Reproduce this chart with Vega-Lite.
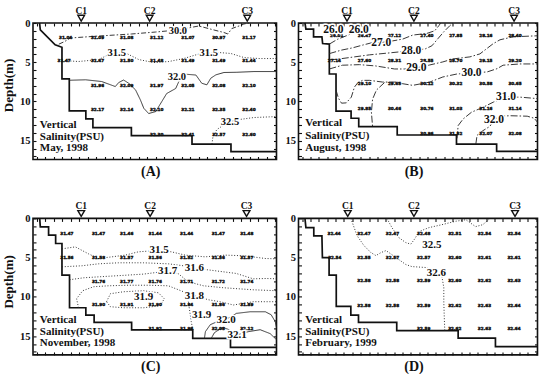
{
"$schema": "https://vega.github.io/schema/vega-lite/v6.json",
"background": "white",
"padding": {"left": 1, "top": 4, "right": 0, "bottom": 0},
"datasets": {
"bathy": [
{"p":"A","i":0,"x":2.7,"y":0},{"p":"A","i":1,"x":3.0,"y":0.87},{"p":"A","i":2,"x":9.1,"y":2.78},{"p":"A","i":3,"x":11.9,"y":3.09},{"p":"A","i":4,"x":11.9,"y":7.12},{"p":"A","i":5,"x":14.9,"y":7.12},{"p":"A","i":6,"x":14.9,"y":11.2},{"p":"A","i":7,"x":21.7,"y":11.2},{"p":"A","i":8,"x":21.7,"y":12.22},{"p":"A","i":9,"x":24.6,"y":12.22},{"p":"A","i":10,"x":24.6,"y":13.33},{"p":"A","i":11,"x":40.4,"y":13.33},{"p":"A","i":12,"x":40.4,"y":14.35},{"p":"A","i":13,"x":65.3,"y":14.35},{"p":"A","i":14,"x":65.3,"y":15.43},{"p":"A","i":15,"x":81.3,"y":15.43},{"p":"A","i":16,"x":81.3,"y":16.4},{"p":"A","i":17,"x":100,"y":16.4},
{"p":"B","i":0,"x":2.7,"y":0},{"p":"B","i":1,"x":3.1,"y":0.77},{"p":"B","i":2,"x":6.3,"y":0.77},{"p":"B","i":3,"x":6.3,"y":1.76},{"p":"B","i":4,"x":9.8,"y":1.76},{"p":"B","i":5,"x":10.1,"y":2.62},{"p":"B","i":6,"x":12.9,"y":2.69},{"p":"B","i":7,"x":12.9,"y":6.5},{"p":"B","i":8,"x":15.7,"y":6.5},{"p":"B","i":9,"x":15.7,"y":11.24},{"p":"B","i":10,"x":22.0,"y":11.24},{"p":"B","i":11,"x":22.0,"y":12.14},{"p":"B","i":12,"x":25.2,"y":12.14},{"p":"B","i":13,"x":25.2,"y":13.2},{"p":"B","i":14,"x":41.3,"y":13.2},{"p":"B","i":15,"x":41.3,"y":14.28},{"p":"B","i":16,"x":66.1,"y":14.28},{"p":"B","i":17,"x":66.1,"y":15.44},{"p":"B","i":18,"x":82.9,"y":15.44},{"p":"B","i":19,"x":82.9,"y":16.37},{"p":"B","i":20,"x":100,"y":16.37},
{"p":"C","i":0,"x":2.75,"y":0},{"p":"C","i":1,"x":3.0,"y":1.08},{"p":"C","i":2,"x":6.4,"y":1.08},{"p":"C","i":3,"x":6.4,"y":2.14},{"p":"C","i":4,"x":9.3,"y":2.14},{"p":"C","i":5,"x":9.3,"y":3.2},{"p":"C","i":6,"x":11.9,"y":3.2},{"p":"C","i":7,"x":11.9,"y":7.23},{"p":"C","i":8,"x":15.0,"y":7.23},{"p":"C","i":9,"x":15.0,"y":11.39},{"p":"C","i":10,"x":21.7,"y":11.39},{"p":"C","i":11,"x":21.7,"y":12.32},{"p":"C","i":12,"x":25.1,"y":12.32},{"p":"C","i":13,"x":25.1,"y":13.26},{"p":"C","i":14,"x":40.5,"y":13.26},{"p":"C","i":15,"x":40.5,"y":14.22},{"p":"C","i":16,"x":65.6,"y":14.22},{"p":"C","i":17,"x":65.6,"y":15.29},{"p":"C","i":18,"x":81.1,"y":15.29},{"p":"C","i":19,"x":81.1,"y":16.44},{"p":"C","i":20,"x":100,"y":16.44},
{"p":"D","i":0,"x":2.7,"y":0},{"p":"D","i":1,"x":3.1,"y":1.18},{"p":"D","i":2,"x":6.4,"y":1.18},{"p":"D","i":3,"x":6.4,"y":2.24},{"p":"D","i":4,"x":9.8,"y":2.24},{"p":"D","i":5,"x":10.0,"y":4.99},{"p":"D","i":6,"x":12.8,"y":4.99},{"p":"D","i":7,"x":12.8,"y":7.24},{"p":"D","i":8,"x":15.8,"y":7.24},{"p":"D","i":9,"x":15.8,"y":11.22},{"p":"D","i":10,"x":21.9,"y":11.22},{"p":"D","i":11,"x":21.9,"y":12.33},{"p":"D","i":12,"x":25.1,"y":12.33},{"p":"D","i":13,"x":25.1,"y":13.25},{"p":"D","i":14,"x":41.1,"y":13.25},{"p":"D","i":15,"x":41.1,"y":14.31},{"p":"D","i":16,"x":66.8,"y":14.31},{"p":"D","i":17,"x":66.8,"y":15.25},{"p":"D","i":18,"x":82.4,"y":15.25},{"p":"D","i":19,"x":82.4,"y":16.34},{"p":"D","i":20,"x":100,"y":16.34}
],
"cont": [
{"p":"A","id":"a1","lev":"30.0","i":0,"x":10.6,"y":2.7},{"p":"A","id":"a1","lev":"30.0","i":1,"x":13.0,"y":2.36},{"p":"A","id":"a1","lev":"30.0","i":2,"x":15.4,"y":1.91},{"p":"A","id":"a1","lev":"30.0","i":3,"x":27.0,"y":1.66},{"p":"A","id":"a1","lev":"30.0","i":4,"x":40.5,"y":1.4},{"p":"A","id":"a1","lev":"30.0","i":5,"x":50.4,"y":1.15},{"p":"A","id":"a1","lev":"30.0","i":6,"x":54.9,"y":1.02},{"p":"A","id":"a1","lev":"30.0","i":7,"x":59.5,"y":0.95},{"p":"A","id":"a1","lev":"30.0","i":8,"x":64.8,"y":0.57},{"p":"A","id":"a1","lev":"30.0","i":9,"x":68.1,"y":0.38},{"p":"A","id":"a1","lev":"30.0","i":10,"x":74.3,"y":0.89},{"p":"A","id":"a1","lev":"30.0","i":11,"x":78.4,"y":1.21},{"p":"A","id":"a1","lev":"30.0","i":12,"x":80.0,"y":1.4},{"p":"A","id":"a1","lev":"30.0","i":13,"x":81.7,"y":0.7},{"p":"A","id":"a1","lev":"30.0","i":14,"x":84.6,"y":0.38},{"p":"A","id":"a1","lev":"30.0","i":15,"x":86.6,"y":0.13},{"p":"A","id":"a1","lev":"30.0","i":16,"x":88.7,"y":0},
{"p":"A","id":"a2","lev":"31.5","i":0,"x":11.9,"y":4.78},{"p":"A","id":"a2","lev":"31.5","i":1,"x":18.7,"y":4.91},{"p":"A","id":"a2","lev":"31.5","i":2,"x":27.0,"y":4.66},{"p":"A","id":"a2","lev":"31.5","i":3,"x":31.1,"y":4.02},{"p":"A","id":"a2","lev":"31.5","i":4,"x":34.4,"y":3.85},{"p":"A","id":"a2","lev":"31.5","i":5,"x":38.5,"y":3.89},{"p":"A","id":"a2","lev":"31.5","i":6,"x":43.4,"y":4.66},{"p":"A","id":"a2","lev":"31.5","i":7,"x":49.6,"y":5.04},{"p":"A","id":"a2","lev":"31.5","i":8,"x":55.8,"y":4.91},{"p":"A","id":"a2","lev":"31.5","i":9,"x":61.9,"y":4.53},{"p":"A","id":"a2","lev":"31.5","i":10,"x":68.1,"y":3.95},{"p":"A","id":"a2","lev":"31.5","i":11,"x":72.2,"y":3.85},{"p":"A","id":"a2","lev":"31.5","i":12,"x":76.3,"y":3.76},{"p":"A","id":"a2","lev":"31.5","i":13,"x":81.3,"y":3.89},{"p":"A","id":"a2","lev":"31.5","i":14,"x":86.6,"y":4.4},{"p":"A","id":"a2","lev":"31.5","i":15,"x":92.8,"y":4.53},{"p":"A","id":"a2","lev":"31.5","i":16,"x":100,"y":4.53},
{"p":"A","id":"a3","lev":"32.0","i":0,"x":14.9,"y":7.3},{"p":"A","id":"a3","lev":"32.0","i":1,"x":21.6,"y":7.24},{"p":"A","id":"a3","lev":"32.0","i":2,"x":28.2,"y":7.46},{"p":"A","id":"a3","lev":"32.0","i":3,"x":33.8,"y":8.1},{"p":"A","id":"a3","lev":"32.0","i":4,"x":35.2,"y":7.59},{"p":"A","id":"a3","lev":"32.0","i":5,"x":37.2,"y":7.27},{"p":"A","id":"a3","lev":"32.0","i":6,"x":39.3,"y":7.68},{"p":"A","id":"a3","lev":"32.0","i":7,"x":42.1,"y":8.52},{"p":"A","id":"a3","lev":"32.0","i":8,"x":44.1,"y":9.8},{"p":"A","id":"a3","lev":"32.0","i":9,"x":45.5,"y":10.87},{"p":"A","id":"a3","lev":"32.0","i":10,"x":47.5,"y":11.54},{"p":"A","id":"a3","lev":"32.0","i":11,"x":50.4,"y":11.29},{"p":"A","id":"a3","lev":"32.0","i":12,"x":52.9,"y":10.01},{"p":"A","id":"a3","lev":"32.0","i":13,"x":54.9,"y":8.99},{"p":"A","id":"a3","lev":"32.0","i":14,"x":58.6,"y":8.35},{"p":"A","id":"a3","lev":"32.0","i":15,"x":59.9,"y":7.46},{"p":"A","id":"a3","lev":"32.0","i":16,"x":62.6,"y":6.53},{"p":"A","id":"a3","lev":"32.0","i":17,"x":66.9,"y":6.63},{"p":"A","id":"a3","lev":"32.0","i":18,"x":69.3,"y":7.68},{"p":"A","id":"a3","lev":"32.0","i":19,"x":71.4,"y":7.88},{"p":"A","id":"a3","lev":"32.0","i":20,"x":73.0,"y":7.04},{"p":"A","id":"a3","lev":"32.0","i":21,"x":75.1,"y":6.61},{"p":"A","id":"a3","lev":"32.0","i":22,"x":78.4,"y":6.31},{"p":"A","id":"a3","lev":"32.0","i":23,"x":83.7,"y":6.28},{"p":"A","id":"a3","lev":"32.0","i":24,"x":90.7,"y":6.19},{"p":"A","id":"a3","lev":"32.0","i":25,"x":100,"y":6.19},
{"p":"A","id":"a4","lev":"32.5","i":0,"x":73.5,"y":15.43},{"p":"A","id":"a4","lev":"32.5","i":1,"x":73.9,"y":14.48},{"p":"A","id":"a4","lev":"32.5","i":2,"x":75.5,"y":13.58},{"p":"A","id":"a4","lev":"32.5","i":3,"x":78.0,"y":13.07},{"p":"A","id":"a4","lev":"32.5","i":4,"x":80.9,"y":12.56},{"p":"A","id":"a4","lev":"32.5","i":5,"x":84.6,"y":12.31},{"p":"A","id":"a4","lev":"32.5","i":6,"x":90.7,"y":12.05},{"p":"A","id":"a4","lev":"32.5","i":7,"x":100,"y":11.93},
{"p":"B","id":"b0","lev":"26.0","i":0,"x":12.9,"y":2.69},{"p":"B","id":"b0","lev":"26.0","i":1,"x":16.3,"y":2.08},{"p":"B","id":"b0","lev":"26.0","i":2,"x":20.0,"y":1.63},{"p":"B","id":"b0","lev":"26.0","i":3,"x":22.1,"y":1.37},{"p":"B","id":"b0","lev":"26.0","i":4,"x":24.4,"y":0.92},{"p":"B","id":"b0","lev":"26.0","i":5,"x":26.8,"y":0.54},{"p":"B","id":"b0","lev":"26.0","i":6,"x":28.0,"y":0},
{"p":"B","id":"b1","lev":"27.0","i":0,"x":12.9,"y":3.9},{"p":"B","id":"b1","lev":"27.0","i":1,"x":17.9,"y":3.46},{"p":"B","id":"b1","lev":"27.0","i":2,"x":22.6,"y":3.17},{"p":"B","id":"b1","lev":"27.0","i":3,"x":26.8,"y":2.82},{"p":"B","id":"b1","lev":"27.0","i":4,"x":30.5,"y":2.53},{"p":"B","id":"b1","lev":"27.0","i":5,"x":34.6,"y":2.49},{"p":"B","id":"b1","lev":"27.0","i":6,"x":38.9,"y":2.31},{"p":"B","id":"b1","lev":"27.0","i":7,"x":43.6,"y":2.05},{"p":"B","id":"b1","lev":"27.0","i":8,"x":47.8,"y":1.54},{"p":"B","id":"b1","lev":"27.0","i":9,"x":53.7,"y":1.33},{"p":"B","id":"b1","lev":"27.0","i":10,"x":57.0,"y":0.99},{"p":"B","id":"b1","lev":"27.0","i":11,"x":58.7,"y":0.35},{"p":"B","id":"b1","lev":"27.0","i":12,"x":59.5,"y":0},
{"p":"B","id":"b2","lev":"28.0","i":0,"x":12.9,"y":4.71},{"p":"B","id":"b2","lev":"28.0","i":1,"x":17.1,"y":4.58},{"p":"B","id":"b2","lev":"28.0","i":2,"x":23.4,"y":4.32},{"p":"B","id":"b2","lev":"28.0","i":3,"x":29.7,"y":4.06},{"p":"B","id":"b2","lev":"28.0","i":4,"x":38.1,"y":3.81},{"p":"B","id":"b2","lev":"28.0","i":5,"x":42.3,"y":3.68},{"p":"B","id":"b2","lev":"28.0","i":6,"x":47.2,"y":3.59},{"p":"B","id":"b2","lev":"28.0","i":7,"x":53.1,"y":3.29},{"p":"B","id":"b2","lev":"28.0","i":8,"x":55.8,"y":2.91},{"p":"B","id":"b2","lev":"28.0","i":9,"x":58.3,"y":2.01},{"p":"B","id":"b2","lev":"28.0","i":10,"x":60.8,"y":1.12},{"p":"B","id":"b2","lev":"28.0","i":11,"x":63.3,"y":0.35},{"p":"B","id":"b2","lev":"28.0","i":12,"x":64.6,"y":0},
{"p":"B","id":"b3","lev":"29.0","i":0,"x":12.9,"y":5.86},{"p":"B","id":"b3","lev":"29.0","i":1,"x":18.4,"y":5.38},{"p":"B","id":"b3","lev":"29.0","i":2,"x":25.5,"y":5.31},{"p":"B","id":"b3","lev":"29.0","i":3,"x":32.2,"y":5.47},{"p":"B","id":"b3","lev":"29.0","i":4,"x":40.2,"y":5.86},{"p":"B","id":"b3","lev":"29.0","i":5,"x":44.4,"y":5.86},{"p":"B","id":"b3","lev":"29.0","i":6,"x":49.3,"y":5.73},{"p":"B","id":"b3","lev":"29.0","i":7,"x":54.9,"y":5.35},{"p":"B","id":"b3","lev":"29.0","i":8,"x":60.4,"y":4.96},{"p":"B","id":"b3","lev":"29.0","i":9,"x":64.6,"y":4.58},{"p":"B","id":"b3","lev":"29.0","i":10,"x":71.7,"y":4.32},{"p":"B","id":"b3","lev":"29.0","i":11,"x":75.9,"y":3.94},{"p":"B","id":"b3","lev":"29.0","i":12,"x":81.4,"y":2.65},{"p":"B","id":"b3","lev":"29.0","i":13,"x":84.3,"y":2.14},{"p":"B","id":"b3","lev":"29.0","i":14,"x":89.8,"y":1.76},{"p":"B","id":"b3","lev":"29.0","i":15,"x":100,"y":1.63},
{"p":"B","id":"b4","lev":"30.0","i":0,"x":15.7,"y":8.55},{"p":"B","id":"b4","lev":"30.0","i":1,"x":16.7,"y":9.58},{"p":"B","id":"b4","lev":"30.0","i":2,"x":18.0,"y":10.22},{"p":"B","id":"b4","lev":"30.0","i":3,"x":20.0,"y":10.18},{"p":"B","id":"b4","lev":"30.0","i":4,"x":22.1,"y":9.45},{"p":"B","id":"b4","lev":"30.0","i":5,"x":23.4,"y":8.17},{"p":"B","id":"b4","lev":"30.0","i":6,"x":24.8,"y":7.62},{"p":"B","id":"b4","lev":"30.0","i":7,"x":26.8,"y":7.31},{"p":"B","id":"b4","lev":"30.0","i":8,"x":29.7,"y":7.31},{"p":"B","id":"b4","lev":"30.0","i":9,"x":35.2,"y":7.53},{"p":"B","id":"b4","lev":"30.0","i":10,"x":41.1,"y":7.53},{"p":"B","id":"b4","lev":"30.0","i":11,"x":43.6,"y":7.74},{"p":"B","id":"b4","lev":"30.0","i":12,"x":47.8,"y":7.95},{"p":"B","id":"b4","lev":"30.0","i":13,"x":54.9,"y":7.53},{"p":"B","id":"b4","lev":"30.0","i":14,"x":60.4,"y":6.88},{"p":"B","id":"b4","lev":"30.0","i":15,"x":66.3,"y":6.5},{"p":"B","id":"b4","lev":"30.0","i":16,"x":72.4,"y":6.37},{"p":"B","id":"b4","lev":"30.0","i":17,"x":78.9,"y":6.24},{"p":"B","id":"b4","lev":"30.0","i":18,"x":83.1,"y":5.82},{"p":"B","id":"b4","lev":"30.0","i":19,"x":85.6,"y":5.38},{"p":"B","id":"b4","lev":"30.0","i":20,"x":92.7,"y":5.22},{"p":"B","id":"b4","lev":"30.0","i":21,"x":100,"y":5.22},
{"p":"B","id":"b5","lev":"30.0","i":0,"x":36.0,"y":7.59},{"p":"B","id":"b5","lev":"30.0","i":1,"x":32.6,"y":8.55},{"p":"B","id":"b5","lev":"30.0","i":2,"x":31.0,"y":9.71},{"p":"B","id":"b5","lev":"30.0","i":3,"x":30.5,"y":11.37},{"p":"B","id":"b5","lev":"30.0","i":4,"x":31.0,"y":13.2},
{"p":"B","id":"b6","lev":"31.0","i":0,"x":66.3,"y":14.71},{"p":"B","id":"b6","lev":"31.0","i":1,"x":66.8,"y":13.08},{"p":"B","id":"b6","lev":"31.0","i":2,"x":68.9,"y":12.23},{"p":"B","id":"b6","lev":"31.0","i":3,"x":72.4,"y":11.37},{"p":"B","id":"b6","lev":"31.0","i":4,"x":77.3,"y":10.73},{"p":"B","id":"b6","lev":"31.0","i":5,"x":81.5,"y":10.09},{"p":"B","id":"b6","lev":"31.0","i":6,"x":86.8,"y":9.45},{"p":"B","id":"b6","lev":"31.0","i":7,"x":92.7,"y":9.45},{"p":"B","id":"b6","lev":"31.0","i":8,"x":100,"y":9.64},
{"p":"B","id":"b7","lev":"32.0","i":0,"x":74.2,"y":15.44},{"p":"B","id":"b7","lev":"32.0","i":1,"x":74.7,"y":14.32},{"p":"B","id":"b7","lev":"32.0","i":2,"x":77.2,"y":13.72},{"p":"B","id":"b7","lev":"32.0","i":3,"x":80.1,"y":13.17},{"p":"B","id":"b7","lev":"32.0","i":4,"x":81.8,"y":12.31},{"p":"B","id":"b7","lev":"32.0","i":5,"x":84.3,"y":11.88},{"p":"B","id":"b7","lev":"32.0","i":6,"x":88.5,"y":11.82},{"p":"B","id":"b7","lev":"32.0","i":7,"x":95.7,"y":11.88},{"p":"B","id":"b7","lev":"32.0","i":8,"x":98.6,"y":12.14},{"p":"B","id":"b7","lev":"32.0","i":9,"x":100,"y":12.65},
{"p":"C","id":"c1","lev":"31.5","i":0,"x":11.9,"y":3.88},{"p":"C","id":"c1","lev":"31.5","i":1,"x":17.4,"y":3.63},{"p":"C","id":"c1","lev":"31.5","i":2,"x":22.8,"y":4.52},{"p":"C","id":"c1","lev":"31.5","i":3,"x":26.9,"y":5.11},{"p":"C","id":"c1","lev":"31.5","i":4,"x":32.4,"y":4.9},{"p":"C","id":"c1","lev":"31.5","i":5,"x":37.9,"y":4.68},{"p":"C","id":"c1","lev":"31.5","i":6,"x":43.3,"y":4.26},{"p":"C","id":"c1","lev":"31.5","i":7,"x":51.8,"y":4.07},{"p":"C","id":"c1","lev":"31.5","i":8,"x":56.8,"y":4.26},{"p":"C","id":"c1","lev":"31.5","i":9,"x":62.5,"y":4.68},{"p":"C","id":"c1","lev":"31.5","i":10,"x":70.7,"y":4.9},{"p":"C","id":"c1","lev":"31.5","i":11,"x":78.9,"y":4.68},{"p":"C","id":"c1","lev":"31.5","i":12,"x":87.0,"y":4.77},{"p":"C","id":"c1","lev":"31.5","i":13,"x":95.3,"y":5.11},{"p":"C","id":"c1","lev":"31.5","i":14,"x":100,"y":5.15},
{"p":"C","id":"c2","lev":"31.6","i":0,"x":11.9,"y":6.17},{"p":"C","id":"c2","lev":"31.6","i":1,"x":20.1,"y":6.04},{"p":"C","id":"c2","lev":"31.6","i":2,"x":26.9,"y":5.79},{"p":"C","id":"c2","lev":"31.6","i":3,"x":35.1,"y":5.66},{"p":"C","id":"c2","lev":"31.6","i":4,"x":45.4,"y":5.66},{"p":"C","id":"c2","lev":"31.6","i":5,"x":55.6,"y":5.79},{"p":"C","id":"c2","lev":"31.6","i":6,"x":61.8,"y":6.04},{"p":"C","id":"c2","lev":"31.6","i":7,"x":65.9,"y":6.35},{"p":"C","id":"c2","lev":"31.6","i":8,"x":72.7,"y":6.59},{"p":"C","id":"c2","lev":"31.6","i":9,"x":78.2,"y":6.81},{"p":"C","id":"c2","lev":"31.6","i":10,"x":83.5,"y":7.02},{"p":"C","id":"c2","lev":"31.6","i":11,"x":90.4,"y":7.7},{"p":"C","id":"c2","lev":"31.6","i":12,"x":95.9,"y":7.66},{"p":"C","id":"c2","lev":"31.6","i":13,"x":100,"y":7.7},
{"p":"C","id":"c3","lev":"31.7","i":0,"x":15.0,"y":7.82},{"p":"C","id":"c3","lev":"31.7","i":1,"x":20.8,"y":7.57},{"p":"C","id":"c3","lev":"31.7","i":2,"x":26.9,"y":7.45},{"p":"C","id":"c3","lev":"31.7","i":3,"x":35.1,"y":7.3},{"p":"C","id":"c3","lev":"31.7","i":4,"x":45.4,"y":7.1},{"p":"C","id":"c3","lev":"31.7","i":5,"x":55.6,"y":6.7},{"p":"C","id":"c3","lev":"31.7","i":6,"x":59.7,"y":7.06},{"p":"C","id":"c3","lev":"31.7","i":7,"x":63.8,"y":8.08},{"p":"C","id":"c3","lev":"31.7","i":8,"x":70.0,"y":8.59},{"p":"C","id":"c3","lev":"31.7","i":9,"x":78.2,"y":8.84},{"p":"C","id":"c3","lev":"31.7","i":10,"x":90.4,"y":9.1},{"p":"C","id":"c3","lev":"31.7","i":11,"x":100,"y":9.22},
{"p":"C","id":"c4","lev":"31.8","i":0,"x":18.7,"y":11.39},{"p":"C","id":"c4","lev":"31.8","i":1,"x":17.9,"y":10.24},{"p":"C","id":"c4","lev":"31.8","i":2,"x":20.4,"y":9.22},{"p":"C","id":"c4","lev":"31.8","i":3,"x":24.9,"y":8.71},{"p":"C","id":"c4","lev":"31.8","i":4,"x":31.0,"y":8.59},{"p":"C","id":"c4","lev":"31.8","i":5,"x":39.2,"y":8.52},{"p":"C","id":"c4","lev":"31.8","i":6,"x":47.4,"y":8.52},{"p":"C","id":"c4","lev":"31.8","i":7,"x":55.6,"y":8.59},{"p":"C","id":"c4","lev":"31.8","i":8,"x":61.8,"y":9.35},{"p":"C","id":"c4","lev":"31.8","i":9,"x":66.8,"y":9.9},{"p":"C","id":"c4","lev":"31.8","i":10,"x":72.0,"y":10.37},{"p":"C","id":"c4","lev":"31.8","i":11,"x":76.8,"y":10.62},{"p":"C","id":"c4","lev":"31.8","i":12,"x":82.3,"y":11.04},{"p":"C","id":"c4","lev":"31.8","i":13,"x":90.5,"y":10.62},{"p":"C","id":"c4","lev":"31.8","i":14,"x":100,"y":10.62},
{"p":"C","id":"c5","lev":"31.9","i":0,"x":30.2,"y":10.62},{"p":"C","id":"c5","lev":"31.9","i":1,"x":31.8,"y":9.6},{"p":"C","id":"c5","lev":"31.9","i":2,"x":37.2,"y":9.35},{"p":"C","id":"c5","lev":"31.9","i":3,"x":45.4,"y":9.22},{"p":"C","id":"c5","lev":"31.9","i":4,"x":51.5,"y":9.48},{"p":"C","id":"c5","lev":"31.9","i":5,"x":53.9,"y":10.24},{"p":"C","id":"c5","lev":"31.9","i":6,"x":52.3,"y":11.13},{"p":"C","id":"c5","lev":"31.9","i":7,"x":45.4,"y":11.39},{"p":"C","id":"c5","lev":"31.9","i":8,"x":37.2,"y":11.39},{"p":"C","id":"c5","lev":"31.9","i":9,"x":31.8,"y":11.26},{"p":"C","id":"c5","lev":"31.9","i":10,"x":30.2,"y":10.62},
{"p":"C","id":"c6","lev":"31.9","i":0,"x":63.8,"y":10.62},{"p":"C","id":"c6","lev":"31.9","i":1,"x":64.4,"y":11.9},{"p":"C","id":"c6","lev":"31.9","i":2,"x":65.0,"y":13.17},{"p":"C","id":"c6","lev":"31.9","i":3,"x":65.6,"y":14.22},
{"p":"C","id":"c7","lev":"32.0","i":0,"x":70.4,"y":15.29},{"p":"C","id":"c7","lev":"32.0","i":1,"x":70.8,"y":14.44},{"p":"C","id":"c7","lev":"32.0","i":2,"x":72.8,"y":13.55},{"p":"C","id":"c7","lev":"32.0","i":3,"x":76.1,"y":13.1},{"p":"C","id":"c7","lev":"32.0","i":4,"x":78.5,"y":12.95},{"p":"C","id":"c7","lev":"32.0","i":5,"x":81.4,"y":12.53},{"p":"C","id":"c7","lev":"32.0","i":6,"x":83.5,"y":12.11},{"p":"C","id":"c7","lev":"32.0","i":7,"x":89.2,"y":11.9},{"p":"C","id":"c7","lev":"32.0","i":8,"x":95.4,"y":11.9},{"p":"C","id":"c7","lev":"32.0","i":9,"x":97.8,"y":12.28},{"p":"C","id":"c7","lev":"32.0","i":10,"x":99.5,"y":13.17},{"p":"C","id":"c7","lev":"32.0","i":11,"x":100,"y":13.93},
{"p":"C","id":"c8","lev":"32.1","i":0,"x":73.2,"y":15.29},{"p":"C","id":"c8","lev":"32.1","i":1,"x":74.5,"y":14.57},{"p":"C","id":"c8","lev":"32.1","i":2,"x":77.0,"y":14.06},{"p":"C","id":"c8","lev":"32.1","i":3,"x":78.2,"y":13.93},{"p":"C","id":"c8","lev":"32.1","i":4,"x":80.6,"y":14.19},{"p":"C","id":"c8","lev":"32.1","i":5,"x":81.8,"y":14.6},{"p":"C","id":"c8","lev":"32.1","i":6,"x":84.3,"y":14.8},{"p":"C","id":"c8","lev":"32.1","i":7,"x":88.4,"y":14.44},{"p":"C","id":"c8","lev":"32.1","i":8,"x":93.3,"y":14.19},{"p":"C","id":"c8","lev":"32.1","i":9,"x":97.4,"y":14.69},{"p":"C","id":"c8","lev":"32.1","i":10,"x":100,"y":15.46},
{"p":"D","id":"d1","lev":"32.6","i":0,"x":21.9,"y":0},{"p":"D","id":"d1","lev":"32.6","i":1,"x":24.5,"y":2.2},{"p":"D","id":"d1","lev":"32.6","i":2,"x":27.4,"y":3.47},{"p":"D","id":"d1","lev":"32.6","i":3,"x":30.3,"y":4.36},{"p":"D","id":"d1","lev":"32.6","i":4,"x":32.4,"y":4.74},{"p":"D","id":"d1","lev":"32.6","i":5,"x":34.5,"y":4.36},{"p":"D","id":"d1","lev":"32.6","i":6,"x":36.6,"y":4.1},{"p":"D","id":"d1","lev":"32.6","i":7,"x":40.8,"y":4.99},{"p":"D","id":"d1","lev":"32.6","i":8,"x":44.9,"y":5.88},{"p":"D","id":"d1","lev":"32.6","i":9,"x":47.4,"y":6.14},{"p":"D","id":"d1","lev":"32.6","i":10,"x":53.3,"y":6.26},{"p":"D","id":"d1","lev":"32.6","i":11,"x":57.7,"y":6.9},{"p":"D","id":"d1","lev":"32.6","i":12,"x":60.0,"y":7.41},{"p":"D","id":"d1","lev":"32.6","i":13,"x":60.8,"y":8.81},{"p":"D","id":"d1","lev":"32.6","i":14,"x":60.8,"y":10.71},{"p":"D","id":"d1","lev":"32.6","i":15,"x":61.0,"y":12.62},{"p":"D","id":"d1","lev":"32.6","i":16,"x":61.2,"y":14.31},
{"p":"D","id":"d2","lev":"32.5","i":0,"x":37.0,"y":0},{"p":"D","id":"d2","lev":"32.5","i":1,"x":39.1,"y":1.18},{"p":"D","id":"d2","lev":"32.5","i":2,"x":42.0,"y":2.45},{"p":"D","id":"d2","lev":"32.5","i":3,"x":44.9,"y":3.09},{"p":"D","id":"d2","lev":"32.5","i":4,"x":47.0,"y":3.28},{"p":"D","id":"d2","lev":"32.5","i":5,"x":48.7,"y":2.58},{"p":"D","id":"d2","lev":"32.5","i":6,"x":50.4,"y":1.69},{"p":"D","id":"d2","lev":"32.5","i":7,"x":54.5,"y":1.18},{"p":"D","id":"d2","lev":"32.5","i":8,"x":60.0,"y":0.8},{"p":"D","id":"d2","lev":"32.5","i":9,"x":65.8,"y":0.36},{"p":"D","id":"d2","lev":"32.5","i":10,"x":70.0,"y":0.17},{"p":"D","id":"d2","lev":"32.5","i":11,"x":71.2,"y":0.42},{"p":"D","id":"d2","lev":"32.5","i":12,"x":74.1,"y":1.05},{"p":"D","id":"d2","lev":"32.5","i":13,"x":77.1,"y":0.8},{"p":"D","id":"d2","lev":"32.5","i":14,"x":79.1,"y":0.29},{"p":"D","id":"d2","lev":"32.5","i":15,"x":80.0,"y":0}
],
"lab": [
{"p":"A","t":"30.0","x":59.5,"y":0.99},{"p":"A","t":"31.5","x":34.4,"y":3.85},{"p":"A","t":"31.5","x":72.2,"y":3.85},{"p":"A","t":"32.0","x":59.1,"y":6.82},{"p":"A","t":"32.5","x":80.9,"y":12.56},
{"p":"B","t":"26.0","x":14.6,"y":0.92},{"p":"B","t":"26.0","x":25.2,"y":0.92},{"p":"B","t":"27.0","x":34.6,"y":2.49},{"p":"B","t":"28.0","x":47.2,"y":3.59},{"p":"B","t":"29.0","x":49.3,"y":5.73},{"p":"B","t":"30.0","x":72.4,"y":6.37},{"p":"B","t":"31.0","x":86.8,"y":9.45},{"p":"B","t":"32.0","x":81.8,"y":12.31},
{"p":"C","t":"31.5","x":51.8,"y":4.07},{"p":"C","t":"31.7","x":55.3,"y":6.7},{"p":"C","t":"31.6","x":66.3,"y":6.35},{"p":"C","t":"31.9","x":45.4,"y":10.05},{"p":"C","t":"31.8","x":66.3,"y":9.85},{"p":"C","t":"31.9","x":69.3,"y":12.35},{"p":"C","t":"32.0","x":79.3,"y":12.95},{"p":"C","t":"32.1","x":83.8,"y":14.85},
{"p":"D","t":"32.5","x":55.8,"y":3.43},{"p":"D","t":"32.6","x":57.7,"y":6.9}
],
"grid": [
{"p":"A","x":13.4,"y":1.85,"v":"31.04"},{"p":"A","x":26.5,"y":1.85,"v":"31.09"},{"p":"A","x":38.5,"y":1.85,"v":"31.08"},{"p":"A","x":50.8,"y":1.85,"v":"31.12"},{"p":"A","x":63.6,"y":1.85,"v":"31.07"},{"p":"A","x":76.3,"y":1.85,"v":"30.97"},{"p":"A","x":88.7,"y":1.85,"v":"31.17"},
{"p":"A","x":12.8,"y":4.9,"v":"31.47"},{"p":"A","x":26.5,"y":4.9,"v":"31.47"},{"p":"A","x":38.5,"y":4.9,"v":"31.50"},{"p":"A","x":50.8,"y":4.9,"v":"31.48"},{"p":"A","x":63.6,"y":4.9,"v":"31.49"},{"p":"A","x":76.3,"y":4.9,"v":"31.49"},{"p":"A","x":88.7,"y":4.9,"v":"31.44"},
{"p":"A","x":26.5,"y":7.97,"v":"31.96"},{"p":"A","x":38.5,"y":7.97,"v":"32.09"},{"p":"A","x":50.8,"y":7.97,"v":"31.97"},{"p":"A","x":63.6,"y":7.97,"v":"32.05"},{"p":"A","x":76.3,"y":7.97,"v":"32.08"},{"p":"A","x":88.7,"y":7.97,"v":"32.10"},
{"p":"A","x":26.5,"y":11.1,"v":"32.17"},{"p":"A","x":38.5,"y":11.1,"v":"32.14"},{"p":"A","x":50.8,"y":11.1,"v":"32.10"},{"p":"A","x":63.6,"y":11.1,"v":"32.21"},{"p":"A","x":76.3,"y":11.1,"v":"32.35"},{"p":"A","x":88.7,"y":11.1,"v":"32.40"},
{"p":"A","x":50.8,"y":14.3,"v":"32.30"},{"p":"A","x":63.6,"y":14.3,"v":"32.41"},{"p":"A","x":76.3,"y":14.3,"v":"32.57"},{"p":"A","x":88.7,"y":14.3,"v":"32.60"},
{"p":"B","x":16.0,"y":1.7,"v":"26.01"},{"p":"B","x":27.6,"y":1.7,"v":"26.47"},{"p":"B","x":40.2,"y":1.7,"v":"27.12"},{"p":"B","x":53.7,"y":1.7,"v":"27.40"},{"p":"B","x":65.8,"y":1.7,"v":"27.85"},{"p":"B","x":78.4,"y":1.7,"v":"28.16"},{"p":"B","x":90.6,"y":1.7,"v":"28.40"},
{"p":"B","x":15.0,"y":4.85,"v":"27.14"},{"p":"B","x":27.6,"y":4.85,"v":"27.60"},{"p":"B","x":40.2,"y":4.85,"v":"28.31"},{"p":"B","x":53.7,"y":4.85,"v":"28.55"},{"p":"B","x":65.8,"y":4.85,"v":"28.70"},{"p":"B","x":78.4,"y":4.85,"v":"29.15"},{"p":"B","x":90.6,"y":4.85,"v":"29.20"},
{"p":"B","x":27.6,"y":7.8,"v":"29.10"},{"p":"B","x":40.2,"y":7.8,"v":"29.65"},{"p":"B","x":53.7,"y":7.8,"v":"30.12"},{"p":"B","x":65.8,"y":7.8,"v":"30.32"},{"p":"B","x":78.4,"y":7.8,"v":"30.58"},{"p":"B","x":90.6,"y":7.8,"v":"30.65"},
{"p":"B","x":27.6,"y":11.0,"v":"29.85"},{"p":"B","x":40.2,"y":11.0,"v":"30.46"},{"p":"B","x":53.7,"y":11.0,"v":"30.76"},{"p":"B","x":65.8,"y":11.0,"v":"31.03"},{"p":"B","x":78.4,"y":11.0,"v":"31.16"},{"p":"B","x":90.6,"y":11.0,"v":"31.14"},
{"p":"B","x":53.7,"y":14.15,"v":"30.96"},{"p":"B","x":65.8,"y":14.15,"v":"31.52"},{"p":"B","x":78.4,"y":14.15,"v":"32.07"},{"p":"B","x":90.6,"y":14.15,"v":"32.08"},
{"p":"C","x":13.9,"y":1.93,"v":"31.47"},{"p":"C","x":26.9,"y":1.93,"v":"31.47"},{"p":"C","x":38.5,"y":1.93,"v":"31.46"},{"p":"C","x":50.2,"y":1.93,"v":"31.44"},{"p":"C","x":63.1,"y":1.93,"v":"31.44"},{"p":"C","x":76.1,"y":1.93,"v":"31.47"},{"p":"C","x":87.8,"y":1.93,"v":"31.48"},
{"p":"C","x":13.9,"y":4.99,"v":"31.56"},{"p":"C","x":26.9,"y":4.99,"v":"31.58"},{"p":"C","x":38.5,"y":4.99,"v":"31.57"},{"p":"C","x":50.2,"y":4.99,"v":"31.56"},{"p":"C","x":63.1,"y":4.99,"v":"31.52"},{"p":"C","x":76.1,"y":4.99,"v":"31.56"},{"p":"C","x":87.8,"y":4.99,"v":"31.57"},
{"p":"C","x":26.9,"y":8.08,"v":"31.76"},{"p":"C","x":38.5,"y":8.08,"v":"31.77"},{"p":"C","x":50.2,"y":8.08,"v":"31.76"},{"p":"C","x":63.1,"y":8.08,"v":"31.71"},{"p":"C","x":76.1,"y":8.08,"v":"31.72"},{"p":"C","x":87.8,"y":8.08,"v":"31.74"},
{"p":"C","x":26.9,"y":11.04,"v":"31.90"},{"p":"C","x":38.5,"y":11.04,"v":"31.91"},{"p":"C","x":50.2,"y":11.04,"v":"31.90"},{"p":"C","x":63.1,"y":11.04,"v":"31.84"},{"p":"C","x":76.1,"y":11.04,"v":"31.86"},{"p":"C","x":87.8,"y":11.04,"v":"31.89"},
{"p":"C","x":50.2,"y":14.15,"v":"31.92"},{"p":"C","x":63.1,"y":14.15,"v":"31.96"},{"p":"C","x":76.1,"y":14.15,"v":"32.08"},{"p":"C","x":87.8,"y":14.15,"v":"32.12"},
{"p":"D","x":14.9,"y":2.03,"v":"32.44"},{"p":"D","x":27.4,"y":2.03,"v":"32.47"},{"p":"D","x":39.3,"y":2.03,"v":"32.47"},{"p":"D","x":52.4,"y":2.03,"v":"32.48"},{"p":"D","x":65.4,"y":2.03,"v":"32.51"},{"p":"D","x":77.8,"y":2.03,"v":"32.54"},{"p":"D","x":90.2,"y":2.03,"v":"32.54"},
{"p":"D","x":15.2,"y":5.06,"v":"32.54"},{"p":"D","x":27.4,"y":5.06,"v":"32.55"},{"p":"D","x":39.3,"y":5.06,"v":"32.57"},{"p":"D","x":52.4,"y":5.06,"v":"32.57"},{"p":"D","x":65.4,"y":5.06,"v":"32.60"},{"p":"D","x":77.8,"y":5.06,"v":"32.61"},{"p":"D","x":90.2,"y":5.06,"v":"32.61"},
{"p":"D","x":27.4,"y":8.04,"v":"32.58"},{"p":"D","x":39.3,"y":8.04,"v":"32.58"},{"p":"D","x":52.4,"y":8.04,"v":"32.59"},{"p":"D","x":65.4,"y":8.04,"v":"32.60"},{"p":"D","x":77.8,"y":8.04,"v":"32.62"},{"p":"D","x":90.2,"y":8.04,"v":"32.63"},
{"p":"D","x":27.4,"y":11.13,"v":"32.58"},{"p":"D","x":39.3,"y":11.13,"v":"32.58"},{"p":"D","x":52.4,"y":11.13,"v":"32.59"},{"p":"D","x":65.4,"y":11.13,"v":"32.62"},{"p":"D","x":77.8,"y":11.13,"v":"32.63"},{"p":"D","x":90.2,"y":11.13,"v":"32.64"},
{"p":"D","x":52.4,"y":14.1,"v":"32.59"},{"p":"D","x":65.4,"y":14.1,"v":"32.62"},{"p":"D","x":77.8,"y":14.1,"v":"32.63"},{"p":"D","x":90.2,"y":14.1,"v":"32.64"}
],
"note": [
{"p":"A","t":"Vertical","x":2.8,"y":12.95},{"p":"A","t":"Salinity(PSU)","x":2.8,"y":14.5},{"p":"A","t":"May, 1998","x":2.8,"y":15.95},
{"p":"B","t":"Vertical","x":2.8,"y":12.7},{"p":"B","t":"Salinity(PSU)","x":2.8,"y":14.45},{"p":"B","t":"August, 1998","x":2.8,"y":15.9},
{"p":"C","t":"Vertical","x":2.8,"y":12.95},{"p":"C","t":"Salinity(PSU)","x":2.8,"y":14.45},{"p":"C","t":"November, 1998","x":2.8,"y":15.93},
{"p":"D","t":"Vertical","x":2.8,"y":12.9},{"p":"D","t":"Salinity(PSU)","x":2.8,"y":14.43},{"p":"D","t":"February, 1999","x":2.8,"y":15.87}
],
"st": [
{"p":"A","s":"C1","x":19.8},{"p":"A","s":"C2","x":47.9},{"p":"A","s":"C3","x":88.0},
{"p":"B","s":"C1","x":20.3},{"p":"B","s":"C2","x":48.3},{"p":"B","s":"C3","x":90.2},
{"p":"C","s":"C1","x":19.8},{"p":"C","s":"C2","x":48.1},{"p":"C","s":"C3","x":87.7},
{"p":"D","s":"C1","x":20.6},{"p":"D","s":"C2","x":48.3},{"p":"D","s":"C3","x":90.6}
]
},
"columns": 2,
"bounds": "flush",
"spacing": {"row": 58.4, "column": 21.5},
"concat": [
{
"width": 243.5, "height": 136.5,
"title": {"text": "(A)"},
"encoding": {"x": {"field": "x", "type": "quantitative", "scale": {"domain": [0, 100], "nice": false, "zero": false}, "axis": null}},
"layer": [
{"data": {"name": "bathy"}, "transform": [{"filter": "datum.p==='A'"}],
 "mark": {"type": "line", "stroke": "#111", "strokeWidth": 1.7},
 "encoding": {
  "x": {"field": "x", "type": "quantitative", "scale": {"domain": [0, 100], "nice": false, "zero": false}, "axis": {"orient": "bottom", "values": [1.5,5,8.5,12,15.5,19,22.5,26,29.5,33,36.5,40,43.5,47,50.5,54,57.5,61,64.5,68,71.5,75,78.5,82,85.5,89,92.5,96,99.5], "labels": false, "tickSize": -3, "title": null}},
  "y": {"field": "y", "type": "quantitative", "scale": {"domain": [0, 17.4], "nice": false, "zero": false, "reverse": true}, "axis": {"orient": "left", "values": [0,1,2,3,4,5,6,7,8,9,10,11,12,13,14,15,16,17], "labelExpr": "datum.value % 5 === 0 ? datum.label : ''", "tickSize": -3, "labelPadding": 6, "title": "Depth(m)", "titlePadding": 4, "titleY": 62}},
  "order": {"field": "i", "type": "quantitative"}}},
{"data": {"name": "cont"}, "transform": [{"filter": "datum.p==='A'"}],
 "mark": {"type": "line", "stroke": "#222", "strokeWidth": 0.9},
 "encoding": {"y": {"field": "y", "type": "quantitative", "axis": null}, "detail": {"field": "id"}, "order": {"field": "i", "type": "quantitative"},
  "strokeDash": {"condition": [{"test": "datum.lev==='30.0'", "value": [5,2,1.5,2]}, {"test": "datum.lev==='32.0'", "value": [1,0]}], "value": [1,1.8]}}},
{"data": {"name": "grid"}, "transform": [{"filter": "datum.p==='A'"}],
 "mark": {"type": "text", "font": "DejaVu Sans", "fontSize": 4.2, "fontWeight": "bold", "stroke": "#111", "strokeWidth": 0.4},
 "encoding": {"text": {"field": "v"},
  "x": {"field": "x", "type": "quantitative", "scale": {"domain": [0, 100], "nice": false, "zero": false}, "axis": {"orient": "top", "values": [1.5,5,8.5,12,15.5,19,22.5,26,29.5,33,36.5,40,43.5,47,50.5,54,57.5,61,64.5,68,71.5,75,78.5,82,85.5,89,92.5,96,99.5], "labels": false, "tickSize": -3, "title": null}},
  "y": {"field": "y", "type": "quantitative", "axis": {"orient": "right", "values": [0,1,2,3,4,5,6,7,8,9,10,11,12,13,14,15,16,17], "labels": false, "tickSize": -3, "title": null}}}},
{"data": {"name": "lab"}, "transform": [{"filter": "datum.p==='A'"}],
 "mark": {"type": "text", "fontSize": 10.5, "fill": "white", "stroke": "white", "strokeWidth": 3},
 "encoding": {"text": {"field": "t"}, "y": {"field": "y", "type": "quantitative", "axis": null}}},
{"data": {"name": "lab"}, "transform": [{"filter": "datum.p==='A'"}],
 "mark": {"type": "text", "fontSize": 10.5},
 "encoding": {"text": {"field": "t"}, "y": {"field": "y", "type": "quantitative", "axis": null}}},
{"data": {"name": "note"}, "transform": [{"filter": "datum.p==='A'"}],
 "mark": {"type": "text", "fontSize": 11, "align": "left"},
 "encoding": {"text": {"field": "t"}, "y": {"field": "y", "type": "quantitative", "axis": null}}},
{"data": {"name": "st"}, "transform": [{"filter": "datum.p==='A'"}],
 "mark": {"type": "point", "shape": "triangle-down", "size": 45, "filled": false, "color": "#111", "strokeWidth": 1.4, "opacity": 1},
 "encoding": {"y": {"datum": -0.62, "type": "quantitative", "axis": null}}},
{"data": {"name": "st"}, "transform": [{"filter": "datum.p==='A'"}],
 "mark": {"type": "text", "fontSize": 9.5, "dy": -12.5},
 "encoding": {"text": {"field": "s"}, "y": {"datum": 0, "type": "quantitative", "axis": null}}}
]
},
{
"width": 239, "height": 136.5,
"title": {"text": "(B)"},
"encoding": {"x": {"field": "x", "type": "quantitative", "scale": {"domain": [0, 100], "nice": false, "zero": false}, "axis": null}},
"layer": [
{"data": {"name": "bathy"}, "transform": [{"filter": "datum.p==='B'"}],
 "mark": {"type": "line", "stroke": "#111", "strokeWidth": 1.7},
 "encoding": {
  "x": {"field": "x", "type": "quantitative", "scale": {"domain": [0, 100], "nice": false, "zero": false}, "axis": {"orient": "bottom", "values": [1.5,5,8.5,12,15.5,19,22.5,26,29.5,33,36.5,40,43.5,47,50.5,54,57.5,61,64.5,68,71.5,75,78.5,82,85.5,89,92.5,96,99.5], "labels": false, "tickSize": -3, "title": null}},
  "y": {"field": "y", "type": "quantitative", "scale": {"domain": [0, 17.4], "nice": false, "zero": false, "reverse": true}, "axis": {"orient": "left", "values": [0,1,2,3,4,5,6,7,8,9,10,11,12,13,14,15,16,17], "labelExpr": "datum.value % 5 === 0 ? datum.label : ''", "tickSize": -3, "labelPadding": 6, "title": null}},
  "order": {"field": "i", "type": "quantitative"}}},
{"data": {"name": "cont"}, "transform": [{"filter": "datum.p==='B'"}],
 "mark": {"type": "line", "stroke": "#222", "strokeWidth": 0.9, "strokeDash": [7,2,1.5,2]},
 "encoding": {"y": {"field": "y", "type": "quantitative", "axis": null}, "detail": {"field": "id"}, "order": {"field": "i", "type": "quantitative"}}},
{"data": {"name": "grid"}, "transform": [{"filter": "datum.p==='B'"}],
 "mark": {"type": "text", "font": "DejaVu Sans", "fontSize": 4.2, "fontWeight": "bold", "stroke": "#111", "strokeWidth": 0.4},
 "encoding": {"text": {"field": "v"},
  "x": {"field": "x", "type": "quantitative", "scale": {"domain": [0, 100], "nice": false, "zero": false}, "axis": {"orient": "top", "values": [1.5,5,8.5,12,15.5,19,22.5,26,29.5,33,36.5,40,43.5,47,50.5,54,57.5,61,64.5,68,71.5,75,78.5,82,85.5,89,92.5,96,99.5], "labels": false, "tickSize": -3, "title": null}},
  "y": {"field": "y", "type": "quantitative", "axis": {"orient": "right", "values": [0,1,2,3,4,5,6,7,8,9,10,11,12,13,14,15,16,17], "labels": false, "tickSize": -3, "title": null}}}},
{"data": {"name": "lab"}, "transform": [{"filter": "datum.p==='B'"}],
 "mark": {"type": "text", "fontSize": 11.5, "fill": "white", "stroke": "white", "strokeWidth": 3},
 "encoding": {"text": {"field": "t"}, "y": {"field": "y", "type": "quantitative", "axis": null}}},
{"data": {"name": "lab"}, "transform": [{"filter": "datum.p==='B'"}],
 "mark": {"type": "text", "fontSize": 11.5},
 "encoding": {"text": {"field": "t"}, "y": {"field": "y", "type": "quantitative", "axis": null}}},
{"data": {"name": "note"}, "transform": [{"filter": "datum.p==='B'"}],
 "mark": {"type": "text", "fontSize": 11, "align": "left"},
 "encoding": {"text": {"field": "t"}, "y": {"field": "y", "type": "quantitative", "axis": null}}},
{"data": {"name": "st"}, "transform": [{"filter": "datum.p==='B'"}],
 "mark": {"type": "point", "shape": "triangle-down", "size": 45, "filled": false, "color": "#111", "strokeWidth": 1.4, "opacity": 1},
 "encoding": {"y": {"datum": -0.62, "type": "quantitative", "axis": null}}},
{"data": {"name": "st"}, "transform": [{"filter": "datum.p==='B'"}],
 "mark": {"type": "text", "fontSize": 9.5, "dy": -12.5},
 "encoding": {"text": {"field": "s"}, "y": {"datum": 0, "type": "quantitative", "axis": null}}}
]
},
{
"width": 243.5, "height": 136.5,
"title": {"text": "(C)"},
"encoding": {"x": {"field": "x", "type": "quantitative", "scale": {"domain": [0, 100], "nice": false, "zero": false}, "axis": null}},
"layer": [
{"data": {"name": "bathy"}, "transform": [{"filter": "datum.p==='C'"}],
 "mark": {"type": "line", "stroke": "#111", "strokeWidth": 1.7},
 "encoding": {
  "x": {"field": "x", "type": "quantitative", "scale": {"domain": [0, 100], "nice": false, "zero": false}, "axis": {"orient": "bottom", "values": [1.5,5,8.5,12,15.5,19,22.5,26,29.5,33,36.5,40,43.5,47,50.5,54,57.5,61,64.5,68,71.5,75,78.5,82,85.5,89,92.5,96,99.5], "labels": false, "tickSize": -3, "title": null}},
  "y": {"field": "y", "type": "quantitative", "scale": {"domain": [0, 17.4], "nice": false, "zero": false, "reverse": true}, "axis": {"orient": "left", "values": [0,1,2,3,4,5,6,7,8,9,10,11,12,13,14,15,16,17], "labelExpr": "datum.value % 5 === 0 ? datum.label : ''", "tickSize": -3, "labelPadding": 6, "title": "Depth(m)", "titlePadding": 4, "titleY": 63}},
  "order": {"field": "i", "type": "quantitative"}}},
{"data": {"name": "cont"}, "transform": [{"filter": "datum.p==='C'"}],
 "mark": {"type": "line", "stroke": "#222", "strokeWidth": 0.9},
 "encoding": {"y": {"field": "y", "type": "quantitative", "axis": null}, "detail": {"field": "id"}, "order": {"field": "i", "type": "quantitative"},
  "strokeDash": {"condition": {"test": "datum.lev==='32.0' || datum.lev==='32.1'", "value": [1,0]}, "value": [1,1.8]}}},
{"data": {"name": "grid"}, "transform": [{"filter": "datum.p==='C'"}],
 "mark": {"type": "text", "font": "DejaVu Sans", "fontSize": 4.2, "fontWeight": "bold", "stroke": "#111", "strokeWidth": 0.4},
 "encoding": {"text": {"field": "v"},
  "x": {"field": "x", "type": "quantitative", "scale": {"domain": [0, 100], "nice": false, "zero": false}, "axis": {"orient": "top", "values": [1.5,5,8.5,12,15.5,19,22.5,26,29.5,33,36.5,40,43.5,47,50.5,54,57.5,61,64.5,68,71.5,75,78.5,82,85.5,89,92.5,96,99.5], "labels": false, "tickSize": -3, "title": null}},
  "y": {"field": "y", "type": "quantitative", "axis": {"orient": "right", "values": [0,1,2,3,4,5,6,7,8,9,10,11,12,13,14,15,16,17], "labels": false, "tickSize": -3, "title": null}}}},
{"data": {"name": "lab"}, "transform": [{"filter": "datum.p==='C'"}],
 "mark": {"type": "text", "fontSize": 11, "fill": "white", "stroke": "white", "strokeWidth": 3},
 "encoding": {"text": {"field": "t"}, "y": {"field": "y", "type": "quantitative", "axis": null}}},
{"data": {"name": "lab"}, "transform": [{"filter": "datum.p==='C'"}],
 "mark": {"type": "text", "fontSize": 11},
 "encoding": {"text": {"field": "t"}, "y": {"field": "y", "type": "quantitative", "axis": null}}},
{"data": {"name": "note"}, "transform": [{"filter": "datum.p==='C'"}],
 "mark": {"type": "text", "fontSize": 11, "align": "left"},
 "encoding": {"text": {"field": "t"}, "y": {"field": "y", "type": "quantitative", "axis": null}}},
{"data": {"name": "st"}, "transform": [{"filter": "datum.p==='C'"}],
 "mark": {"type": "point", "shape": "triangle-down", "size": 45, "filled": false, "color": "#111", "strokeWidth": 1.4, "opacity": 1},
 "encoding": {"y": {"datum": -0.62, "type": "quantitative", "axis": null}}},
{"data": {"name": "st"}, "transform": [{"filter": "datum.p==='C'"}],
 "mark": {"type": "text", "fontSize": 9.5, "dy": -12.5},
 "encoding": {"text": {"field": "s"}, "y": {"datum": 0, "type": "quantitative", "axis": null}}}
]
},
{
"width": 239, "height": 136.5,
"title": {"text": "(D)"},
"encoding": {"x": {"field": "x", "type": "quantitative", "scale": {"domain": [0, 100], "nice": false, "zero": false}, "axis": null}},
"layer": [
{"data": {"name": "bathy"}, "transform": [{"filter": "datum.p==='D'"}],
 "mark": {"type": "line", "stroke": "#111", "strokeWidth": 1.7},
 "encoding": {
  "x": {"field": "x", "type": "quantitative", "scale": {"domain": [0, 100], "nice": false, "zero": false}, "axis": {"orient": "bottom", "values": [1.5,5,8.5,12,15.5,19,22.5,26,29.5,33,36.5,40,43.5,47,50.5,54,57.5,61,64.5,68,71.5,75,78.5,82,85.5,89,92.5,96,99.5], "labels": false, "tickSize": -3, "title": null}},
  "y": {"field": "y", "type": "quantitative", "scale": {"domain": [0, 17.4], "nice": false, "zero": false, "reverse": true}, "axis": {"orient": "left", "values": [0,1,2,3,4,5,6,7,8,9,10,11,12,13,14,15,16,17], "labelExpr": "datum.value % 5 === 0 ? datum.label : ''", "tickSize": -3, "labelPadding": 6, "title": null}},
  "order": {"field": "i", "type": "quantitative"}}},
{"data": {"name": "cont"}, "transform": [{"filter": "datum.p==='D'"}],
 "mark": {"type": "line", "stroke": "#222", "strokeWidth": 0.9, "strokeDash": [1,1.8]},
 "encoding": {"y": {"field": "y", "type": "quantitative", "axis": null}, "detail": {"field": "id"}, "order": {"field": "i", "type": "quantitative"}}},
{"data": {"name": "grid"}, "transform": [{"filter": "datum.p==='D'"}],
 "mark": {"type": "text", "font": "DejaVu Sans", "fontSize": 4.2, "fontWeight": "bold", "stroke": "#111", "strokeWidth": 0.4},
 "encoding": {"text": {"field": "v"},
  "x": {"field": "x", "type": "quantitative", "scale": {"domain": [0, 100], "nice": false, "zero": false}, "axis": {"orient": "top", "values": [1.5,5,8.5,12,15.5,19,22.5,26,29.5,33,36.5,40,43.5,47,50.5,54,57.5,61,64.5,68,71.5,75,78.5,82,85.5,89,92.5,96,99.5], "labels": false, "tickSize": -3, "title": null}},
  "y": {"field": "y", "type": "quantitative", "axis": {"orient": "right", "values": [0,1,2,3,4,5,6,7,8,9,10,11,12,13,14,15,16,17], "labels": false, "tickSize": -3, "title": null}}}},
{"data": {"name": "lab"}, "transform": [{"filter": "datum.p==='D'"}],
 "mark": {"type": "text", "fontSize": 11, "fill": "white", "stroke": "white", "strokeWidth": 3},
 "encoding": {"text": {"field": "t"}, "y": {"field": "y", "type": "quantitative", "axis": null}}},
{"data": {"name": "lab"}, "transform": [{"filter": "datum.p==='D'"}],
 "mark": {"type": "text", "fontSize": 11},
 "encoding": {"text": {"field": "t"}, "y": {"field": "y", "type": "quantitative", "axis": null}}},
{"data": {"name": "note"}, "transform": [{"filter": "datum.p==='D'"}],
 "mark": {"type": "text", "fontSize": 11, "align": "left"},
 "encoding": {"text": {"field": "t"}, "y": {"field": "y", "type": "quantitative", "axis": null}}},
{"data": {"name": "st"}, "transform": [{"filter": "datum.p==='D'"}],
 "mark": {"type": "point", "shape": "triangle-down", "size": 45, "filled": false, "color": "#111", "strokeWidth": 1.4, "opacity": 1},
 "encoding": {"y": {"datum": -0.62, "type": "quantitative", "axis": null}}},
{"data": {"name": "st"}, "transform": [{"filter": "datum.p==='D'"}],
 "mark": {"type": "text", "fontSize": 9.5, "dy": -12.5},
 "encoding": {"text": {"field": "s"}, "y": {"datum": 0, "type": "quantitative", "axis": null}}}
]
}
],
"config": {
"view": {"stroke": "#111", "strokeWidth": 1.6},
"axis": {"domain": false, "grid": false, "tickColor": "#111", "tickWidth": 1.1, "labelFont": "Liberation Serif", "labelFontSize": 10.5, "labelFontWeight": "bold", "labelColor": "#111", "titleFont": "Liberation Serif", "titleFontSize": 13, "titleFontWeight": "bold", "titleColor": "#111"},
"title": {"orient": "bottom", "offset": 5, "dx": -4, "font": "Liberation Serif", "fontSize": 14, "fontWeight": "bold", "color": "#111"},
"text": {"font": "Liberation Serif", "fontWeight": "bold", "color": "#111"}
}
}
